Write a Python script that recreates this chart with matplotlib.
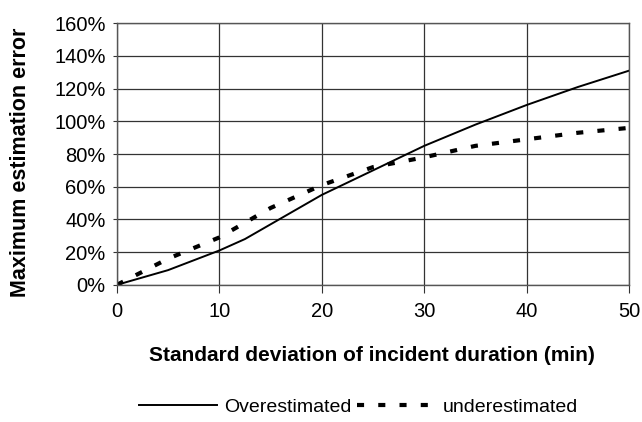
import numpy as np
import matplotlib.pyplot as plt
from matplotlib.ticker import PercentFormatter

# values (x in min, y in %)
sd = [0, 5, 10, 12.5, 15, 20, 25, 30, 35, 40, 45, 50]
over = [0, 9, 21, 28, 37, 55, 70, 85, 98, 110, 121, 131]
under = [0, 16, 29, 38, 47, 61, 72, 78, 85, 89, 93, 96]

plt.rcParams['font.family'] = ['Liberation Sans', 'DejaVu Sans']

fig = plt.figure(figsize=(6.42, 4.22), dpi=100)
ax = fig.add_axes([0.182, 0.325, 0.798, 0.62])

ax.plot(sd, over, color='black', lw=1.4, label='Overestimated')
ax.plot(sd, under, color='black', lw=3.0, dashes=(1.7, 3.4), label='underestimated')

ax.set_xlim(0, 50)
ax.set_ylim(0, 160)
ax.set_xticks(np.arange(0, 51, 10))
ax.set_yticks(np.arange(0, 161, 20))
ax.yaxis.set_major_formatter(PercentFormatter(decimals=0))
ax.grid(True, color='#333333', lw=0.9)
ax.set_axisbelow(True)
for s in ax.spines.values():
    s.set_color('#555555')
    s.set_linewidth(1.0)
ax.tick_params(labelsize=14.5, color='#333333')
ax.tick_params(axis='x', length=6, pad=6)
ax.tick_params(axis='y', length=3, pad=5)

ax.set_ylabel('Maximum estimation error', fontsize=15.5, fontweight='bold', va='center')
ax.yaxis.set_label_coords(-0.189, 0.468)
ax.set_xlabel('Standard deviation of incident duration (min)', fontsize=15,
              fontweight='bold', va='center')
ax.xaxis.set_label_coords(0.497, -0.271)

fig.legend(loc='center', bbox_to_anchor=(0.558, 0.036), ncol=2, frameon=False,
           fontsize=14, handlelength=4.0, handletextpad=0.4, columnspacing=0.25,
           borderpad=0)

fig.savefig('out.png', dpi=100)
